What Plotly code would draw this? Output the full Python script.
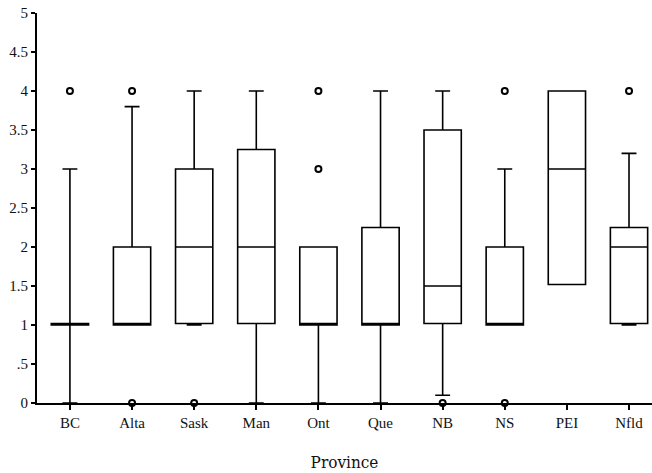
import plotly.graph_objects as go

provinces = ["BC", "Alta", "Sask", "Man", "Ont", "Que", "NB", "NS", "PEI", "Nfld"]
q1 = [1.0, 1.0, 1.02, 1.02, 1.0, 1.0, 1.02, 1.0, 1.52, 1.02]
median = [1.0, 1.02, 2.0, 2.0, 1.02, 1.02, 1.5, 1.02, 3.0, 2.0]
q3 = [1.02, 2.0, 3.0, 3.25, 2.0, 2.25, 3.5, 2.0, 4.0, 2.25]
lower = [0.0, 1.0, 1.0, 0.0, 0.0, 0.0, 0.1, 1.0, 1.52, 1.0]
upper = [3.0, 3.8, 4.0, 4.0, 2.0, 4.0, 4.0, 3.0, 4.0, 3.2]

outlier_x = ["BC", "Alta", "Alta", "Sask", "Ont", "Ont", "NB", "NS", "NS", "Nfld"]
outlier_y = [4, 4, 0, 0, 4, 3, 0, 4, 0, 4]

ytick_vals = [0, 0.5, 1, 1.5, 2, 2.5, 3, 3.5, 4, 4.5, 5]
ytick_text = ["0", ".5", "1", "1.5", "2", "2.5", "3", "3.5", "4", "4.5", "5"]

fig = go.Figure()
fig.add_trace(go.Box(
    x=provinces, q1=q1, median=median, q3=q3,
    lowerfence=lower, upperfence=upper,
    width=0.6, whiskerwidth=0.4,
    fillcolor="white",
    line=dict(color="black", width=1.6),
    boxpoints=False, showlegend=False, hoverinfo="skip",
))
fig.add_trace(go.Scatter(
    x=outlier_x, y=outlier_y, mode="markers",
    marker=dict(symbol="circle-open", size=6, color="black", line=dict(width=2, color="black")),
    showlegend=False, cliponaxis=False, hoverinfo="skip",
))

font = dict(family="Liberation Serif", size=15, color="#111")
fig.update_layout(
    width=652, height=473,
    margin=dict(l=37, r=0, t=13, b=70),
    paper_bgcolor="white", plot_bgcolor="white",
    font=font,
    xaxis=dict(
        type="category", categoryorder="array", categoryarray=provinces,
        range=[-0.53, 9.37], automargin=False,
        showline=True, linecolor="black", linewidth=2,
        ticks="outside", ticklen=5, tickwidth=1.5, tickcolor="black",
        showgrid=False, zeroline=False,
        title=dict(text="Province", font=dict(family="DejaVu Serif Condensed", size=17), standoff=26),
    ),
    yaxis=dict(
        range=[0, 5], tickvals=ytick_vals, ticktext=ytick_text, automargin=False,
        showline=True, linecolor="black", linewidth=2,
        ticks="outside", ticklen=4, tickwidth=1.5, tickcolor="black",
        showgrid=False, zeroline=False,
    ),
)
fig.write_html(
    "out.html",
    config={"displayModeBar": False},
    post_script="document.body.style.margin='0';document.body.style.overflow='hidden';",
)
